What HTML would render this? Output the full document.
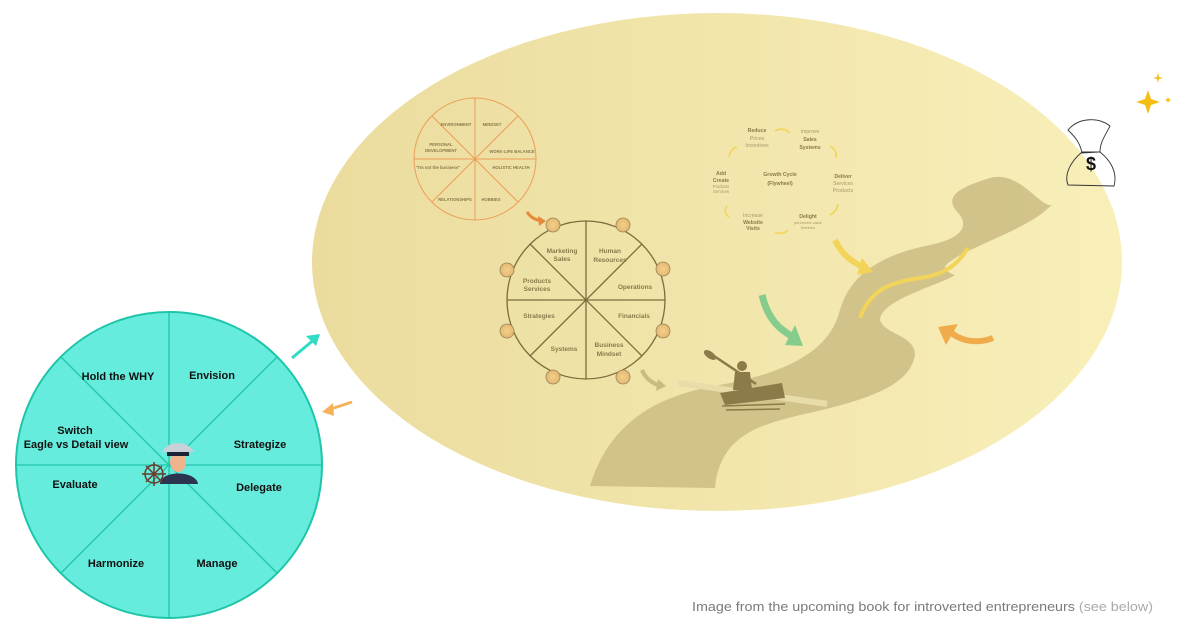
<!DOCTYPE html>
<html><head><meta charset="utf-8"><style>
body{margin:0;width:1200px;height:630px;background:#fff;overflow:hidden;font-family:"Liberation Sans",sans-serif}
svg text{font-family:"Liberation Sans",sans-serif}
</style></head><body>
<svg width="1200" height="630" viewBox="0 0 1200 630">
<defs>
<linearGradient id="g" x1="0" x2="1" y1="0" y2="0"><stop offset="0" stop-color="#ebdc9e"/><stop offset="1" stop-color="#f8efb9"/></linearGradient>
<radialGradient id="dot"><stop offset="0" stop-color="#f3d08a"/><stop offset="1" stop-color="#e4b872"/></radialGradient>
</defs>
<ellipse cx="717" cy="262" rx="405" ry="249" fill="url(#g)"/>
<!-- river -->
<path d="M590,486 C610,420 660,395 720,385 C790,372 830,350 840,310 C850,275 880,255 930,245 C955,240 970,230 960,215 C945,200 950,190 990,178 C1020,170 1040,208 1052,205 L1046,210 C1030,225 990,240 960,255 C950,262 935,268 955,275 C940,285 880,300 880,320 C885,335 915,335 915,355 C910,385 870,400 800,415 C760,425 720,435 715,488 Z" fill="#cdbf85" opacity="0.9"/>
<path d="M860,318 C870,290 890,282 920,278 C950,274 960,260 968,248" stroke="#f2d45a" stroke-width="4" fill="none"/>
<!-- arrows -->
<path d="M762,295 C768,320 780,330 795,338" stroke="#86cc8c" stroke-width="7" fill="none"/><polygon points="785,345 803,346 795,325" fill="#86cc8c"/>
<path d="M835,240 C842,255 852,262 865,268" stroke="#f3d458" stroke-width="6" fill="none"/><polygon points="857,275 873,272 862,258" fill="#f3d458"/>
<path d="M993,338 C975,345 958,340 948,330" stroke="#f0ab4a" stroke-width="6" fill="none"/><polygon points="938,327 958,324 946,345" fill="#f0ab4a"/>
<path d="M642,370 C645,378 652,383 660,386" stroke="#c9bb82" stroke-width="4" fill="none"/><polygon points="656,391 666,386 658,379" fill="#c9bb82"/>
<path d="M527,212 C531,218 536,220 542,221" stroke="#e58a3b" stroke-width="3" fill="none"/><polygon points="539,226 546,221 538,216" fill="#e58a3b"/>
<!-- kayak -->
<rect x="678" y="390" width="150" height="6" fill="#e8dca8" transform="rotate(8 750 393)"/>
<path d="M720,393 L782,383 L785,398 L725,405 Z" fill="#8c7a48"/>
<circle cx="742" cy="366" r="5" fill="#8c7a48"/>
<path d="M735,372 L750,372 L752,390 L733,390 Z" fill="#8c7a48"/>
<line x1="708" y1="352" x2="756" y2="384" stroke="#8c7a48" stroke-width="2.5"/>
<ellipse cx="710" cy="355" rx="7" ry="3.5" fill="#8c7a48" transform="rotate(35 710 355)"/>
<path d="M722,406 L785,404 M726,410 L780,409" stroke="#8c7a48" stroke-width="1.5"/>
<!-- life wheel -->
<g stroke="#ec9d57" stroke-width="1" fill="none">
<circle cx="475" cy="159" r="61"/>
<line x1="475" y1="98" x2="475" y2="220"/><line x1="414" y1="159" x2="536" y2="159"/>
<line x1="432" y1="116" x2="518" y2="202"/><line x1="518" y1="116" x2="432" y2="202"/>
</g>
<g fill="#8a7a4a" font-size="4.2" font-weight="bold" text-anchor="middle">
<text x="456" y="126">ENVIRONMENT</text><text x="492" y="126">MINDSET</text>
<text x="441" y="146">PERSONAL</text><text x="441" y="152">DEVELOPMENT</text>
<text x="512" y="153">WORK-LIFE BALANCE</text>
<text x="438" y="169">"I'm not the business"</text><text x="511" y="169">HOLISTIC HEALTH</text>
<text x="455" y="201">RELATIONSHIPS</text><text x="491" y="201">HOBBIES</text>
</g>
<!-- business wheel -->
<g stroke="#7d6c3c" stroke-width="1.3" fill="none">
<circle cx="586" cy="300" r="79"/>
<line x1="586" y1="221" x2="586" y2="379"/><line x1="507" y1="300" x2="665" y2="300"/>
<line x1="530" y1="244" x2="642" y2="356"/><line x1="642" y1="244" x2="530" y2="356"/>
</g>
<g fill="url(#dot)" stroke="#9a8455" stroke-width="0.8">
<circle cx="553" cy="225" r="7"/><circle cx="623" cy="225" r="7"/><circle cx="663" cy="269" r="7"/><circle cx="663" cy="331" r="7"/>
<circle cx="623" cy="377" r="7"/><circle cx="553" cy="377" r="7"/><circle cx="507" cy="331" r="7"/><circle cx="507" cy="270" r="7"/>
</g>
<g fill="#8a7a4a" font-size="6.5" font-weight="bold" text-anchor="middle">
<text x="562" y="253">Marketing</text><text x="562" y="261">Sales</text>
<text x="610" y="253">Human</text><text x="610" y="262">Resources</text>
<text x="537" y="283">Products</text><text x="537" y="291">Services</text>
<text x="635" y="289">Operations</text><text x="539" y="318">Strategies</text>
<text x="634" y="318">Financials</text><text x="564" y="351">Systems</text>
<text x="609" y="347">Business</text><text x="609" y="356">Mindset</text>
</g>
<!-- flywheel -->
<g font-size="5.2" text-anchor="middle">
<text x="757" y="132" fill="#8a7a4a" font-weight="bold">Reduce</text><text x="757" y="140" fill="#a89a6a">Prices</text><text x="757" y="147" fill="#a89a6a">Incentives</text>
<text x="810" y="133" fill="#a89a6a">Improve</text><text x="810" y="141" fill="#8a7a4a" font-weight="bold">Sales</text><text x="810" y="149" fill="#8a7a4a" font-weight="bold">Systems</text>
<text x="780" y="176" fill="#8a7a4a" font-weight="bold">Growth Cycle</text><text x="780" y="185" fill="#8a7a4a" font-weight="bold">(Flywheel)</text>
<text x="721" y="175" fill="#8a7a4a" font-weight="bold">Add</text><text x="721" y="182" fill="#8a7a4a" font-weight="bold">Create</text><text x="721" y="188" fill="#a89a6a" font-size="4.2">Products</text><text x="721" y="193" fill="#a89a6a" font-size="4.2">Services</text>
<text x="843" y="178" fill="#8a7a4a" font-weight="bold">Deliver</text><text x="843" y="185" fill="#a89a6a">Services</text><text x="843" y="192" fill="#a89a6a">Products</text>
<text x="753" y="217" fill="#a89a6a">Increase</text><text x="753" y="224" fill="#8a7a4a" font-weight="bold">Website</text><text x="753" y="230" fill="#8a7a4a" font-weight="bold">Visits</text>
<text x="808" y="218" fill="#8a7a4a" font-weight="bold">Delight</text><text x="808" y="224" fill="#a89a6a" font-size="4">perceived value</text><text x="808" y="229" fill="#a89a6a" font-size="4">freebies</text>
</g>
<g stroke="#f3d458" stroke-width="1.6" fill="none">
<path d="M775,131 C781,128 786,129 790,133"/><path d="M830,146 C835,149 837,153 836,158"/><path d="M838,204 C837,210 834,213 830,215"/>
<path d="M788,230 C784,234 779,234 775,232"/><path d="M727,206 C724,210 725,214 729,217"/><path d="M729,157 C730,152 733,148 737,147"/>
</g>
<!-- money bag -->
<path d="M1082,152 C1070,162 1064,175 1068,185 L1114,186 C1118,172 1110,160 1100,152 Z" fill="none" stroke="#333" stroke-width="0.9"/>
<path d="M1068,130 C1080,116 1100,118 1110,126 C1106,134 1100,142 1100,152 L1082,153 C1080,142 1074,136 1068,130 Z" fill="none" stroke="#333" stroke-width="0.9"/>
<text x="1091" y="170" font-size="18" font-weight="bold" text-anchor="middle" fill="#111">$</text>
<path d="M1148,90 L1151,99 L1160,102 L1151,105 L1148,114 L1145,105 L1136,102 L1145,99 Z" fill="#f6be14"/>
<path d="M1158,72 L1159,77 L1163,78 L1159,79 L1158,83 L1157,79 L1153,78 L1157,77 Z" fill="#f6be14"/>
<path d="M1168,97 L1169,99 L1171,100 L1169,101 L1168,103 L1167,101 L1165,100 L1167,99 Z" fill="#f6be14"/>
<!-- connectors -->
<line x1="292" y1="358" x2="316" y2="338" stroke="#2fdcc4" stroke-width="3"/><polygon points="320,334 306,336 316,346" fill="#2fdcc4"/>
<line x1="352" y1="402" x2="328" y2="410" stroke="#f4b35b" stroke-width="3"/><polygon points="322,412 333,403 334,416" fill="#f4b35b"/>
<!-- CEO wheel -->
<g stroke="#1ec5a8" stroke-width="1.3">
<circle cx="169" cy="465" r="153" fill="#66ecdc" stroke-width="2"/>
<line x1="169" y1="312" x2="169" y2="618"/><line x1="16" y1="465" x2="322" y2="465"/>
<line x1="61" y1="357" x2="277" y2="573"/><line x1="277" y1="357" x2="61" y2="573"/>
</g>
<g font-size="11" font-weight="bold" fill="#111" text-anchor="middle">
<text x="118" y="380">Hold the WHY</text><text x="212" y="379">Envision</text>
<text x="75" y="434">Switch</text><text x="76" y="448">Eagle vs Detail view</text>
<text x="260" y="448">Strategize</text><text x="75" y="488">Evaluate</text><text x="259" y="491">Delegate</text>
<text x="116" y="567">Harmonize</text><text x="217" y="567">Manage</text>
</g>
<!-- captain -->
<path d="M160,484 C160,470 196,470 198,484 Z" fill="#2b3550"/>
<ellipse cx="178" cy="462" rx="8" ry="10" fill="#f0b48c"/>
<path d="M162,452 C168,440 188,440 194,452 Z" fill="#c8d0d8"/><rect x="167" y="452" width="22" height="4" fill="#1b2238"/>
<g stroke="#6b3a2a" stroke-width="1.5" fill="none"><circle cx="154" cy="474" r="9"/><line x1="142" y1="474" x2="166" y2="474"/><line x1="154" y1="462" x2="154" y2="486"/><line x1="146" y1="466" x2="162" y2="482"/><line x1="162" y1="466" x2="146" y2="482"/></g>
<text x="692" y="611" font-size="12.5" fill="#7a7a7a" textLength="461" lengthAdjust="spacingAndGlyphs">Image from the upcoming  book for introverted entrepreneurs <tspan fill="#aaa">(see below)</tspan></text>
</svg>
</body></html>
